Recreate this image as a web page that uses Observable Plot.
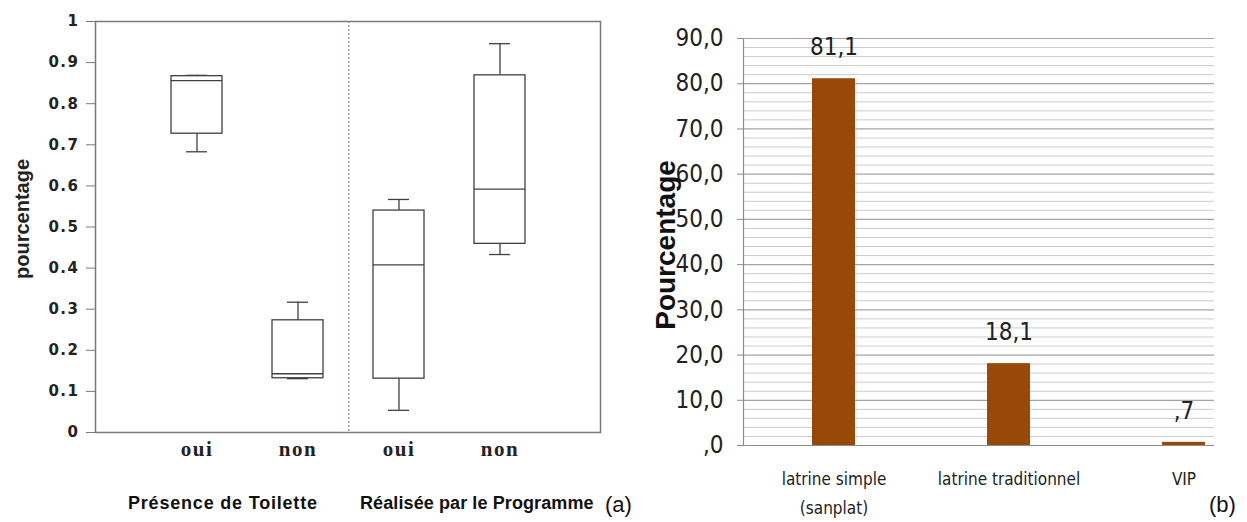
<!DOCTYPE html>
<html>
<head>
<meta charset="utf-8">
<script src="https://cdn.jsdelivr.net/npm/d3@7"></script>
<script src="https://cdn.jsdelivr.net/npm/@observablehq/plot@0.6"></script>
<style>
  html, body { margin: 0; padding: 0; background: #fff; }
  #wrap { position: relative; width: 1247px; height: 522px; overflow: hidden; }
  #pa, #pb { position: absolute; top: 0; }
  #pa { left: 0; }
  #pb { left: 640px; }
  .cap { position: absolute; white-space: nowrap; color: #111; }
  .grp { font-family: "Liberation Sans", Arial, sans-serif; font-weight: bold; font-size: 18px; line-height: 22px; }
  .tag { font-family: "Liberation Sans", Arial, sans-serif; font-size: 22px; line-height: 26px; }
  #pa g[aria-label="y-axis tick label"] text { letter-spacing: 1.5px; }
  #pa g[aria-label="x-axis tick label"] text { letter-spacing: 1.5px; }
</style>
</head>
<body>
<div id="wrap">
  <div id="pa"></div>
  <div id="pb"></div>
  <div class="cap grp" style="left:128px; top:492px; letter-spacing:0.8px;">Présence de Toilette</div>
  <div class="cap grp" style="left:360px; top:492px; letter-spacing:0.1px;">Réalisée par le Programme</div>
  <div class="cap tag" style="left:605px; top:492px;">(a)</div>
  <div class="cap tag" style="left:1209px; top:492px;">(b)</div>
</div>
<script>
// ---------- Panel (a): box plots ----------
const boxKeys = ["oui1", "non1", "oui2", "non2"];
const boxLabels = ["oui", "non", "oui", "non"];
const boxGroups = ["Présence de Toilette", "Présence de Toilette", "Réalisée par le Programme", "Réalisée par le Programme"];
const whiskerLow  = [0.683, 0.131, 0.054, 0.433];
const quart1      = [0.727, 0.132, 0.131, 0.459];
const medians     = [0.856, 0.143, 0.408, 0.592];
const quart3      = [0.867, 0.273, 0.540, 0.869];
const whiskerHigh = [0.869, 0.317, 0.567, 0.946];
const yTicksA = [0, 0.1, 0.2, 0.3, 0.4, 0.5, 0.6, 0.7, 0.8, 0.9, 1];

const boxes = boxKeys.map((k, i) => ({
  key: k, label: boxLabels[i], group: boxGroups[i],
  lo: whiskerLow[i], q1: quart1[i], med: medians[i], q3: quart3[i], hi: whiskerHigh[i]
}));
const labelOf = Object.fromEntries(boxKeys.map((k, i) => [k, boxLabels[i]]));
const boxStroke = "#404040";

const plotA = Plot.plot({
  width: 640, height: 522,
  marginLeft: 95, marginRight: 40, marginTop: 21, marginBottom: 90,
  x: { type: "band", domain: boxKeys, range: [118.7, 576.3], paddingInner: 0.5, paddingOuter: 0.5 },
  y: { domain: [0, 1] },
  marks: [
    Plot.frame({ stroke: "#7a7a7a", strokeWidth: 1.5 }),
    Plot.ruleX(["non1"], { x: d => d, dx: 50.85, stroke: "#6f9470", strokeDasharray: "2,2", strokeWidth: 1.2 }),
    Plot.ruleX(boxes, { x: "key", y1: "lo", y2: "q1", stroke: boxStroke, strokeWidth: 1.3 }),
    Plot.ruleX(boxes, { x: "key", y1: "q3", y2: "hi", stroke: boxStroke, strokeWidth: 1.3 }),
    Plot.barY(boxes, { x: "key", y1: "q1", y2: "q3", fill: "white", stroke: boxStroke, strokeWidth: 1.3 }),
    Plot.tickY(boxes, { x: "key", y: "med", stroke: boxStroke, strokeWidth: 1.3 }),
    Plot.tickY(boxes, { x: "key", y: "lo", stroke: boxStroke, strokeWidth: 1.3, insetLeft: 15, insetRight: 15 }),
    Plot.tickY(boxes, { x: "key", y: "hi", stroke: boxStroke, strokeWidth: 1.3, insetLeft: 15, insetRight: 15 }),
    Plot.axisY({
      ticks: yTicksA, tickSize: 9, tickPadding: 7, label: null,
      fontSize: 15, fontWeight: "bold", fontFamily: "DejaVu Sans, sans-serif",
      stroke: "#7a7a7a", color: "#222", tickFormat: d => String(d)
    }),
    Plot.axisX({
      tickSize: 0, tickPadding: 9, label: null,
      fontSize: 21, fontWeight: "bold", fontFamily: "Liberation Serif, Times New Roman, serif",
      color: "#222", tickFormat: k => labelOf[k]
    }),
    Plot.text(["pourcentage"], {
      frameAnchor: "left", rotate: -90, dx: -73, dy: -8, textAnchor: "middle",
      fontSize: 20, fontWeight: "bold", fontFamily: "Liberation Sans, Arial, sans-serif", fill: "#222"
    })
  ]
});
document.getElementById("pa").appendChild(plotA);

// ---------- Panel (b): bar chart ----------
const latrineTypes = ["latrine simple\n(sanplat)", "latrine traditionnel", "VIP"];
const percentages = [81.1, 18.1, 0.7];
const valueLabels = ["81,1", "18,1", ",7"];
const yTicksB = [0, 10, 20, 30, 40, 50, 60, 70, 80, 90];
const yTickLabelsB = [",0", "10,0", "20,0", "30,0", "40,0", "50,0", "60,0", "70,0", "80,0", "90,0"];
const minorB = [2, 4, 6, 8, 12, 14, 16, 18, 22, 24, 26, 28, 32, 34, 36, 38, 42, 44, 46, 48,
                52, 54, 56, 58, 62, 64, 66, 68, 72, 74, 76, 78, 82, 84, 86, 88];

const bars = latrineTypes.map((t, i) => ({ type: t, pct: percentages[i], label: valueLabels[i] }));
const tickLabelOf = new Map(yTicksB.map((v, i) => [v, yTickLabelsB[i]]));
const narrow = "Liberation Sans Narrow, Arial Narrow, DejaVu Sans Condensed, sans-serif";

const plotB = Plot.plot({
  width: 607, height: 522,
  marginLeft: 103, marginRight: 33, marginTop: 38, marginBottom: 77,
  x: { type: "band", domain: latrineTypes, range: [38, 699], paddingInner: 0.756, paddingOuter: 0.756 },
  y: { domain: [0, 90] },
  marks: [
    Plot.ruleY(minorB, { stroke: "#cbcbcb", strokeWidth: 1 }),
    Plot.ruleY(yTicksB, { stroke: "#a3a3a3", strokeWidth: 1.2 }),
    Plot.frame({ anchor: "left", stroke: "#8c8c8c", strokeWidth: 1.2 }),
    Plot.barY(bars, { x: "type", y: "pct", fill: "#984807" }),
    Plot.ruleY([0], { stroke: "#8c8c8c", strokeWidth: 1.2 }),
    Plot.text(bars, {
      x: "type", y: "pct", text: "label", dy: -31,
      fontSize: 24, fontFamily: narrow, fill: "#222"
    }),
    Plot.axisY({
      ticks: yTicksB, tickSize: 6, tickPadding: 14, label: null,
      fontSize: 24, fontFamily: narrow, stroke: "#8c8c8c", color: "#222",
      tickFormat: d => tickLabelOf.get(d)
    }),
    Plot.axisX({
      tickSize: 0, tickPadding: 19, label: null, lineHeight: 1.7,
      fontSize: 17, fontFamily: narrow, color: "#222"
    }),
    Plot.text(["Pourcentage"], {
      frameAnchor: "left", rotate: -90, dx: -77, dy: 3, textAnchor: "middle",
      fontSize: 28, fontWeight: "bold", fontFamily: "Liberation Sans, Arial, sans-serif", fill: "#111"
    })
  ]
});
document.getElementById("pb").appendChild(plotB);
</script>
</body>
</html>
